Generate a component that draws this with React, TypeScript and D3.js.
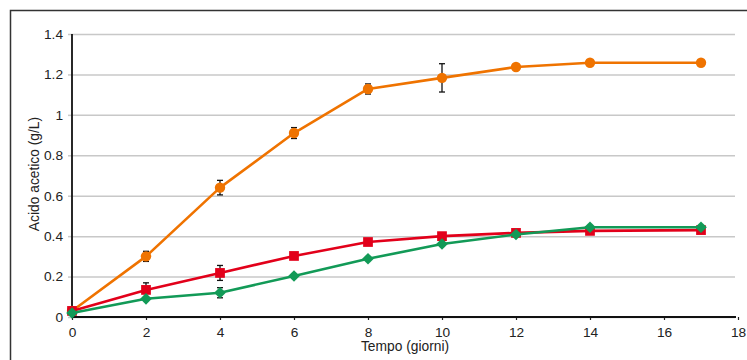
import React, { useEffect, useRef } from 'react';
import * as d3 from 'd3';

const days = [0, 2, 4, 6, 8, 10, 12, 14, 17];

const orangeValues = [0.03, 0.3, 0.64, 0.91, 1.128, 1.183, 1.237, 1.258, 1.258];
const orangeErrors = [0, 0.025, 0.036, 0.027, 0.025, 0.07, 0, 0, 0];

const redValues = [0.03, 0.134, 0.218, 0.302, 0.371, 0.4, 0.416, 0.426, 0.43];
const redErrors = [0, 0.035, 0.037, 0, 0, 0, 0, 0, 0];

const greenValues = [0.02, 0.09, 0.12, 0.203, 0.288, 0.361, 0.408, 0.444, 0.444];
const greenErrors = [0, 0, 0.025, 0, 0, 0, 0, 0, 0];

const xTicks = [0, 2, 4, 6, 8, 10, 12, 14, 16, 18];
const yTicks = [0, 0.2, 0.4, 0.6, 0.8, 1, 1.2, 1.4];

const xLabel = 'Tempo (giorni)';
const yLabel = 'Acido acetico (g/L)';

interface ISeries {
  name: string;
  values: number[];
  errors: number[];
  color: string;
  symbol: d3.SymbolType;
  size: number;
  rotate: number;
}

const series: ISeries[] = [
  { name: 'orange', values: orangeValues, errors: orangeErrors, color: '#ef7300', symbol: d3.symbolCircle, size: 85, rotate: 0 },
  { name: 'red', values: redValues, errors: redErrors, color: '#e2001a', symbol: d3.symbolSquare, size: 95, rotate: 0 },
  { name: 'green', values: greenValues, errors: greenErrors, color: '#129a57', symbol: d3.symbolSquare, size: 68, rotate: 45 },
];

const drawChart = (container: SVGSVGElement) => {
  const svg = d3.select(container);
  svg.selectAll('*').remove();

  const xScale = d3.scaleLinear().domain([0, 18]).range([72, 738]);
  const yScale = d3.scaleLinear().domain([0, 1.4]).range([317, 34]);
  const font = '"Liberation Sans", Arial, Helvetica, sans-serif';

  // outer frame (cropped on right and bottom)
  svg
    .append('path')
    .attr('d', 'M10.5,362 L10.5,10.5 L750,10.5')
    .attr('fill', 'none')
    .attr('stroke', '#333')
    .attr('stroke-width', 1.5);

  const yAxisG = svg.append('g').attr('transform', `translate(${xScale(0)},0)`);
  yAxisG.call(
    d3
      .axisLeft(yScale)
      .tickValues(yTicks)
      .tickSize(4)
      .tickPadding(5)
      .tickFormat((d) => String(+(+d).toFixed(1)))
  );
  yAxisG
    .selectAll('.tick')
    .append('line')
    .attr('class', 'grid')
    .attr('x1', 0)
    .attr('x2', 735 - xScale(0))
    .attr('stroke', '#d0d0d0')
    .attr('stroke-width', 1.5);
  yAxisG.selectAll('.tick line').attr('stroke', '#c8c8c8').attr('stroke-width', 1.5);

  const xAxisG = svg.append('g').attr('transform', `translate(0,${yScale(0)})`);
  xAxisG.call(d3.axisBottom(xScale).tickValues(xTicks).tickSize(3).tickPadding(7).tickFormat((d) => String(d)));
  xAxisG.selectAll('.tick line').attr('stroke', '#222').attr('stroke-width', 1.2);
  xAxisG.select('.domain').remove();
  yAxisG.select('.domain').remove();

  // axis lines
  svg
    .append('line')
    .attr('x1', xScale(0))
    .attr('x2', xScale(0))
    .attr('y1', yScale(1.4))
    .attr('y2', yScale(0) + 1)
    .attr('stroke', '#111')
    .attr('stroke-width', 1.8);
  svg
    .append('line')
    .attr('x1', xScale(0))
    .attr('x2', 736)
    .attr('y1', yScale(0))
    .attr('y2', yScale(0))
    .attr('stroke', '#111')
    .attr('stroke-width', 1.8);

  svg
    .selectAll('.tick text')
    .style('font-family', font)
    .style('font-size', '13.7px')
    .attr('fill', '#222');

  svg
    .append('text')
    .attr('x', 405)
    .attr('y', 351)
    .attr('text-anchor', 'middle')
    .style('font-family', font)
    .style('font-size', '13.8px')
    .attr('fill', '#222')
    .text(xLabel);

  svg
    .append('text')
    .attr('transform', `translate(39,${174}) rotate(-90)`)
    .attr('text-anchor', 'middle')
    .style('font-family', font)
    .style('font-size', '13.8px')
    .attr('fill', '#222')
    .text(yLabel);

  const lineGenerator = d3
    .line<number>()
    .x((d, i) => xScale(days[i]))
    .y((d) => yScale(d));

  series.forEach((s) => {
    const g = svg.append('g').attr('class', `series-${s.name}`);
    g.append('path')
      .attr('d', lineGenerator(s.values) || '')
      .attr('fill', 'none')
      .attr('stroke', s.color)
      .attr('stroke-width', 2.6)
      .attr('stroke-linejoin', 'round');

    const errs = s.values
      .map((v, i) => ({ x: days[i], v, e: s.errors[i] }))
      .filter((d) => d.e > 0);
    const eg = g.selectAll('.err').data(errs).enter().append('g').attr('class', 'err');
    eg.append('line')
      .attr('x1', (d) => xScale(d.x))
      .attr('x2', (d) => xScale(d.x))
      .attr('y1', (d) => yScale(d.v + d.e))
      .attr('y2', (d) => yScale(d.v - d.e))
      .attr('stroke', '#111')
      .attr('stroke-width', 1.3);
    [1, -1].forEach((sign) => {
      eg.append('line')
        .attr('x1', (d) => xScale(d.x) - 3)
        .attr('x2', (d) => xScale(d.x) + 3)
        .attr('y1', (d) => yScale(d.v + sign * d.e))
        .attr('y2', (d) => yScale(d.v + sign * d.e))
        .attr('stroke', '#111')
        .attr('stroke-width', 1.3);
    });

    g.selectAll('.pt')
      .data(s.values)
      .enter()
      .append('path')
      .attr('class', 'pt')
      .attr('transform', (d, i) => `translate(${xScale(days[i])},${yScale(d)}) rotate(${s.rotate})`)
      .attr('d', d3.symbol().type(s.symbol).size(s.size)() || '')
      .attr('fill', s.color);
  });
};

const App: React.FC = () => {
  const svgRef = useRef<SVGSVGElement>(null);

  useEffect(() => {
    if (svgRef.current) drawChart(svgRef.current);
  }, []);

  return (
    <svg
      ref={svgRef}
      width={747}
      height={360}
      style={{ position: 'absolute', left: 0, top: 0, background: '#fff' }}
    />
  );
};

export default App;
